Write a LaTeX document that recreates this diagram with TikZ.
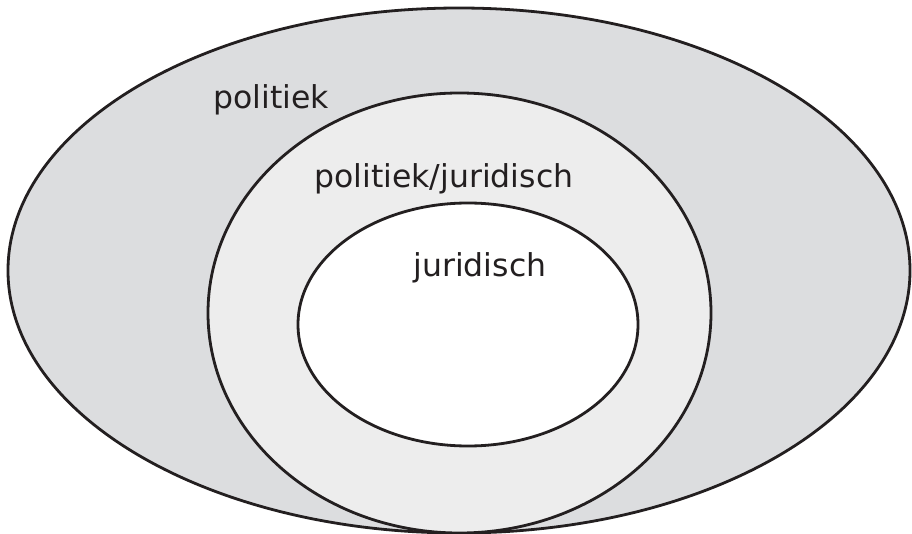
\documentclass[tikz,border=0pt]{standalone}
\usepackage{fontspec}
\setmainfont{DejaVu Sans}
\definecolor{outerfill}{HTML}{DCDDDF}
\definecolor{midfill}{HTML}{EDEDED}
\definecolor{rim}{HTML}{231F20}
\begin{document}
\begin{tikzpicture}[x=1pt, y=-1pt, line width=2.8pt,
    ring/.style={draw=rim},
    every node/.style={inner sep=0pt, anchor=base west, text=rim,
      font=\fontsize{31.5}{36}\selectfont}]
  \useasboundingbox (0,0) rectangle (912,534);
  \draw[ring, fill=outerfill] (459,270.5) ellipse [x radius=451, y radius=262.5];
  \draw[ring, fill=midfill] (459.5,313) ellipse [x radius=251.5, y radius=220];
  \draw[ring, fill=white] (468,324.5) ellipse [x radius=170, y radius=121.5];
  \node (politiek) at (212,109) {politiek};
  \node (beide) at (313,188) {politiek/juridisch};
  \node (juridisch) at (412,277) {juridisch};
\end{tikzpicture}
\end{document}
